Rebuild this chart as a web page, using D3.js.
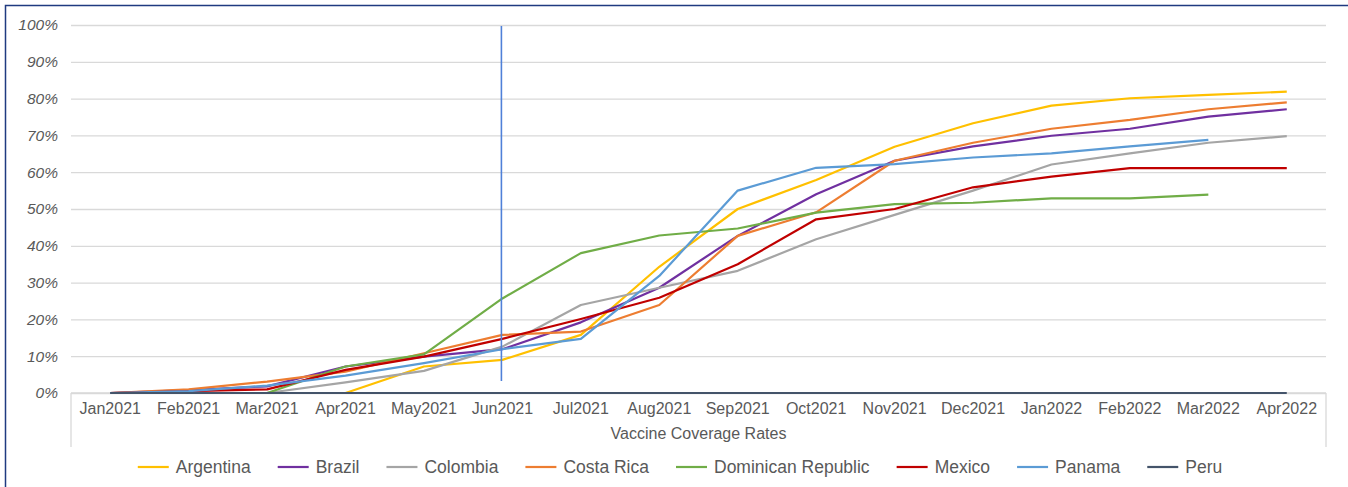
<!DOCTYPE html>
<html>
<head>
<meta charset="utf-8">
<script src="https://cdn.jsdelivr.net/npm/d3@7"></script>
<style>
  html, body { margin: 0; padding: 0; background: #fff; }
  svg { display: block; }
  text { font-family: "Liberation Sans", Arial, Helvetica, sans-serif; fill: #595959; }
</style>
</head>
<body>
<svg id="chart" width="1348" height="487"></svg>
<script>
const months = ["Jan2021","Feb2021","Mar2021","Apr2021","May2021","Jun2021","Jul2021","Aug2021",
                "Sep2021","Oct2021","Nov2021","Dec2021","Jan2022","Feb2022","Mar2022","Apr2022"];
const yTicks = [0, 0.1, 0.2, 0.3, 0.4, 0.5, 0.6, 0.7, 0.8, 0.9, 1.0];
const markerMonth = "Jun2021";
const axisTitle = "Vaccine Coverage Rates";

const argentina = [0, 0, 0, 0, 0.072, 0.09, 0.158, 0.343, 0.50, 0.579, 0.669, 0.733, 0.781, 0.801, 0.81, 0.819];
const brazil    = [0, 0.008, 0.018, 0.072, 0.099, 0.119, 0.192, 0.286, 0.427, 0.54, 0.631, 0.67, 0.699, 0.718, 0.751, 0.771];
const colombia  = [0, 0, 0, 0.029, 0.06, 0.126, 0.239, 0.286, 0.332, 0.418, 0.484, 0.55, 0.621, 0.651, 0.68, 0.698];
const costaRica = [0, 0.01, 0.031, 0.058, 0.108, 0.158, 0.167, 0.239, 0.427, 0.491, 0.631, 0.68, 0.718, 0.742, 0.771, 0.79];
const dominican = [0, 0, 0, 0.072, 0.105, 0.257, 0.38, 0.428, 0.447, 0.49, 0.513, 0.517, 0.529, 0.529, 0.539, null];
const mexico    = [0, 0.005, 0.01, 0.063, 0.099, 0.147, 0.201, 0.259, 0.35, 0.472, 0.50, 0.559, 0.588, 0.611, 0.611, 0.611];
const panama    = [0, 0.005, 0.02, 0.047, 0.081, 0.119, 0.147, 0.318, 0.55, 0.612, 0.622, 0.64, 0.651, 0.67, 0.688, null];
const peru      = [0, 0, 0, 0, 0, 0, 0, 0, 0, 0, 0, 0, 0, 0, 0, 0];

const seriesNames  = ["Argentina","Brazil","Colombia","Costa Rica","Dominican Republic","Mexico","Panama","Peru"];
const seriesValues = [argentina, brazil, colombia, costaRica, dominican, mexico, panama, peru];
const seriesColors = ["#FFC000","#7030A0","#A5A5A5","#ED7D31","#70AD47","#C00000","#5B9BD5","#44546A"];

const svg = d3.select("#chart");

// outer frame
svg.append("rect").attr("x", 5.5).attr("y", 5.5).attr("width", 1360).attr("height", 500)
  .attr("fill", "none").attr("stroke", "#1F3A80").attr("stroke-width", 1.5);

const pLeft = 71, pRight = 1326, pTop = 25, pBottom = 393;
const x = d3.scaleBand().domain(months).range([pLeft, pRight]).paddingInner(0).paddingOuter(0);
const xc = m => x(m) + x.bandwidth() / 2;
const y = d3.scaleLinear().domain([0, 1]).range([pBottom, pTop]);

// gridlines
const yAxis = d3.axisLeft(y).tickValues(yTicks).tickFormat(d3.format(".0%")).tickSize(-(pRight - pLeft)).tickPadding(13);
const gy = svg.append("g").attr("transform", `translate(${pLeft},0)`).call(yAxis);
gy.select(".domain").remove();
gy.selectAll(".tick line").attr("stroke", "#D9D9D9").attr("stroke-width", 1.3);
gy.selectAll(".tick text").attr("font-size", 15.5).attr("font-style", "italic").attr("fill", "#595959")
  .style("font-family", "'Liberation Sans', Arial, sans-serif");

// category axis frame
const xAxis = d3.axisBottom(x).tickSize(0).tickPadding(10);
const gx = svg.append("g").attr("transform", `translate(0,${pBottom})`).call(xAxis);
gx.select(".domain").remove();
gx.selectAll(".tick text").attr("font-size", 16).attr("fill", "#595959")
  .style("font-family", "'Liberation Sans', Arial, sans-serif");
svg.append("line").attr("x1", pLeft).attr("x2", pRight).attr("y1", pBottom).attr("y2", pBottom)
  .attr("stroke", "#D9D9D9").attr("stroke-width", 1.3);
[pLeft, pRight].forEach(px => {
  svg.append("line").attr("x1", px).attr("x2", px).attr("y1", pBottom).attr("y2", 447)
    .attr("stroke", "#D9D9D9").attr("stroke-width", 1.3);
});

svg.append("text").attr("x", (pLeft + pRight) / 2).attr("y", 439).attr("text-anchor", "middle")
  .attr("font-size", 16).text(axisTitle);

// series
const line = d3.line().defined(d => d.v !== null).x(d => xc(d.m)).y(d => y(d.v));
seriesValues.forEach((vals, i) => {
  const data = months.map((m, j) => ({ m, v: vals[j] }));
  svg.append("path").datum(data).attr("d", line).attr("fill", "none")
    .attr("stroke", seriesColors[i]).attr("stroke-width", 2.2)
    .attr("stroke-linejoin", "round");
});

// marker line
svg.append("line").attr("x1", xc(markerMonth) - 1).attr("x2", xc(markerMonth) - 1)
  .attr("y1", 26).attr("y2", 381).attr("stroke", "#4F80D8").attr("stroke-width", 1.6);

// legend
const lg = svg.append("g");
let cx = 0;
seriesNames.forEach((name, i) => {
  const g = lg.append("g").attr("transform", `translate(${cx},0)`);
  g.append("line").attr("x1", 0).attr("x2", 31).attr("y1", 0).attr("y2", 0)
    .attr("stroke", seriesColors[i]).attr("stroke-width", 2.2);
  const t = g.append("text").attr("x", 38).attr("y", 6).attr("font-size", 17.5).text(name);
  const w = t.node().getComputedTextLength();
  cx += 38 + w + 27;
});
const total = cx - 27;
lg.attr("transform", `translate(${680 - total / 2},467)`);
</script>
</body>
</html>
